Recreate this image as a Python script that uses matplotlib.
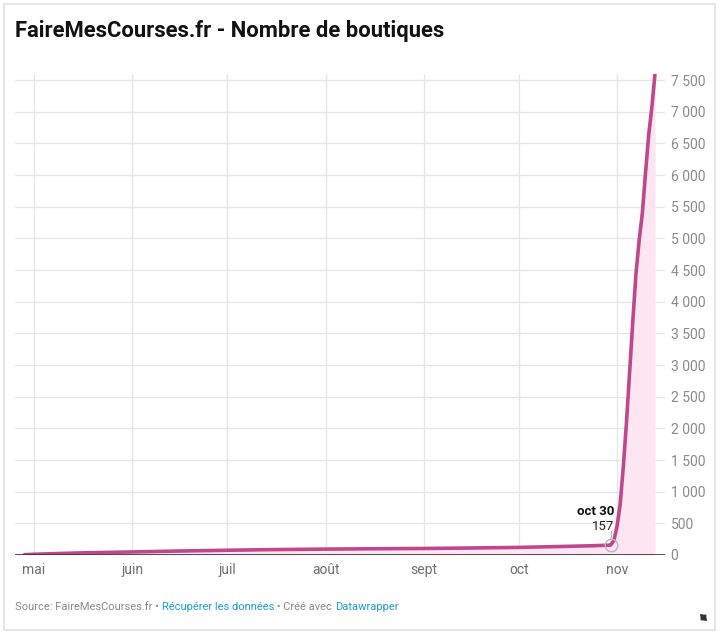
import matplotlib
matplotlib.use('Agg')
import matplotlib.pyplot as plt
import matplotlib.dates as mdates
from matplotlib.patches import Rectangle, FancyArrowPatch

plt.rcParams['font.family'] = ['Roboto', 'DejaVu Sans']

# Nombre de boutiques
dates = ['2020-04-28', '2020-05-01', '2020-05-15', '2020-06-01', '2020-06-15',
         '2020-07-01', '2020-07-15', '2020-08-01', '2020-08-15', '2020-09-01',
         '2020-09-15', '2020-10-01', '2020-10-15', '2020-10-25', '2020-10-30',
         '2020-10-31', '2020-11-01', '2020-11-02', '2020-11-03', '2020-11-04',
         '2020-11-05', '2020-11-06', '2020-11-07', '2020-11-08', '2020-11-09',
         '2020-11-10', '2020-11-11', '2020-11-12', '2020-11-13']
values = [5, 12, 32, 48, 62, 75, 85, 93, 98, 103, 110, 120, 135, 147, 157,
          230, 450, 800, 1400, 2100, 2900, 3700, 4450, 4970, 5400, 6030,
          6630, 7070, 7600]
month_ticks = ['2020-05-01', '2020-06-01', '2020-07-01', '2020-08-01',
               '2020-09-01', '2020-10-01', '2020-11-01']
month_labels = ['mai', 'juin', 'juil', 'août', 'sept', 'oct', 'nov']
y_ticks = list(range(0, 8000, 500))

x = mdates.datestr2num(dates)
xt = mdates.datestr2num(month_ticks)

W, H = 724, 637
fig = plt.figure(figsize=(W / 100, H / 100), dpi=100)

# outer frame
fig.patches.append(Rectangle((4 / W, 1 - 630 / H), 711 / W, 626 / H,
                             transform=fig.transFigure, fill=False,
                             edgecolor='#e0e0e0', linewidth=1.2))

left, right = 15, 665
bottom, top = 555, 555 - 475 * 7600 / 7500
ax = fig.add_axes([left / W, 1 - bottom / H, (right - left) / W, (bottom - top) / H])

line_c = '#c0478c'
ax.fill_between(x, 0, values, color='#fde6f1', linewidth=0, zorder=1)
ax.plot(x, values, color=line_c, linewidth=2.6, solid_joinstyle='round',
        solid_capstyle='round', zorder=3)

x0 = mdates.datestr2num('2020-04-25')
x1 = mdates.datestr2num('2020-11-16') + 0.15
ax.set_xlim(x0, x1)
ax.set_ylim(0, 7600)

for s in ax.spines.values():
    s.set_visible(False)
ax.axhline(0, color='#333333', linewidth=1.2, zorder=4)
for yv in y_ticks[1:]:
    ax.axhline(yv, color='#e6e6e6', linewidth=1, zorder=0)
for xv in xt:
    ax.axvline(xv, color='#e6e6e6', linewidth=1, zorder=0)

ax.set_xticks(xt)
ax.set_xticklabels(month_labels)
ax.set_yticks(y_ticks)
ax.set_yticklabels([f'{v:,}'.replace(',', ' ') for v in y_ticks])
ax.yaxis.tick_right()
ax.tick_params(axis='both', length=0, labelsize=10, labelcolor='#8a8a8a')
ax.tick_params(axis='x', pad=6, labelcolor='#6f6f6f')
ax.tick_params(axis='y', pad=4)

# annotation oct 30
xa = mdates.datestr2num('2020-10-30')
ax.plot([xa], [157], marker='o', markersize=9, markerfacecolor='none',
        markeredgecolor='#b8b8b8', markeredgewidth=1, zorder=5)
ax.plot([xa, xa], [280, 380], color='#b8b8b8', linewidth=0.8, zorder=5)
ax.text(xa + 1.3, 585, 'oct 30', ha='right', va='bottom', fontsize=9.5,
        fontweight='bold', color='#111111')
ax.text(xa + 1.3, 350, '157', ha='right', va='bottom', fontsize=9.5,
        color='#222222')

# title
fig.text(15 / W, 1 - 31 / H, 'FaireMesCourses.fr - Nombre de boutiques',
         fontsize=15.8, fontweight='bold', color='#111111', va='center')

# footer
grey, blue = '#8a8a8a', '#1a9ed5'
prev = fig.text(15 / W, 1 - 607 / H, 'Source: FaireMesCourses.fr • ',
                fontsize=8, color=grey, va='center')
for txt, c in [('Récupérer les données', blue), (' • Créé avec ', grey),
               ('Datawrapper', blue)]:
    prev = ax.annotate(txt, xy=(1, 0), xycoords=prev, va='bottom', ha='left',
                       fontsize=8, color=c, annotation_clip=False)

# resize icon
fig.add_artist(FancyArrowPatch(
    (698 / W, 1 - 612 / H), (709 / W, 1 - 623 / H), transform=fig.transFigure,
    arrowstyle='<|-|>,head_length=0.35,head_width=0.25', color='#333333',
    linewidth=1.2, mutation_scale=8))

fig.savefig('out.png', dpi=100)
